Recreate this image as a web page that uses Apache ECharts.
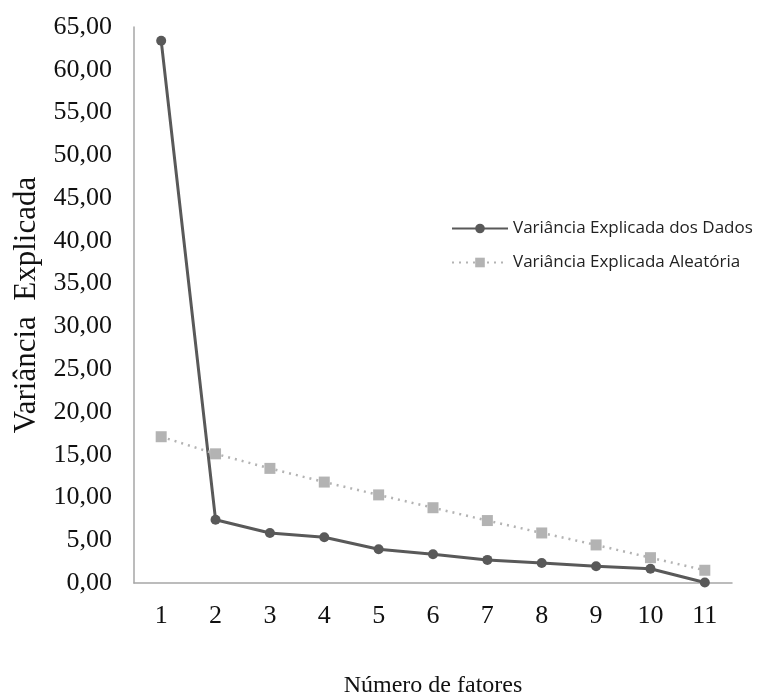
<!DOCTYPE html>
<html><head><meta charset="utf-8">
<script src="https://cdn.jsdelivr.net/npm/echarts@6/dist/echarts.min.js"></script>
<style>html,body{margin:0;padding:0;background:#fff}#c{width:769px;height:694px}</style>
</head><body><div id="c"></div>
<script>
const categories = ['1','2','3','4','5','6','7','8','9','10','11'];
const dadosValues = [63.4, 7.4, 5.85, 5.35, 3.95, 3.36, 2.7, 2.34, 1.95, 1.67, 0.05];
const aleatoriaValues = [17.1, 15.1, 13.4, 11.8, 10.3, 8.8, 7.3, 5.85, 4.45, 2.96, 1.49];
const seriesNames = ['Variância Explicada dos Dados', 'Variância Explicada Aleatória'];
const yTitle = 'Variância  Explicada';
const xTitle = 'Número de fatores';

const chart = echarts.init(document.getElementById('c'));
chart.setOption({
  animation: false,
  backgroundColor: '#fff',
  grid: {left: 134, top: 27, right: 37, bottom: 111, outerBoundsMode: 'none', containLabel: false},
  legend: {
    orient: 'vertical', left: 446, top: 215, itemGap: 17,
    itemWidth: 56, itemHeight: 12,
    textStyle: {fontFamily: 'Open Sans', fontSize: 17, color: '#222'},
    data: seriesNames
  },
  xAxis: {
    type: 'category', data: categories, boundaryGap: true,
    axisLine: {lineStyle: {color: '#a6a6a6', width: 1.5}},
    axisTick: {show: false},
    axisLabel: {fontFamily: 'Liberation Serif', fontSize: 26, color: '#111', margin: 20},
    name: xTitle, nameLocation: 'middle', nameGap: 91,
    nameTextStyle: {fontFamily: 'Liberation Serif', fontSize: 24, color: '#111'}
  },
  yAxis: {
    type: 'value', min: 0, max: 65, interval: 5,
    axisLine: {show: true, lineStyle: {color: '#a6a6a6', width: 1.5}},
    axisTick: {show: false},
    splitLine: {show: false},
    axisLabel: {fontFamily: 'Liberation Serif', fontSize: 26, color: '#111', margin: 22,
      formatter: v => v.toFixed(2).replace('.', ',')},
    name: yTitle, nameLocation: 'middle', nameGap: 92,
    nameTextStyle: {fontFamily: 'Liberation Serif', fontSize: 31, color: '#111'}
  },
  series: [
    {
      name: seriesNames[0], type: 'line', data: dadosValues,
      symbol: 'circle', symbolSize: 10,
      lineStyle: {color: '#595959', width: 3},
      itemStyle: {color: '#595959'}
    },
    {
      name: seriesNames[1], type: 'line', data: aleatoriaValues,
      symbol: 'rect', symbolSize: 11,
      lineStyle: {color: '#b3b3b3', width: 2.5, type: [2, 5]},
      itemStyle: {color: '#b3b3b3'}
    }
  ]
});
</script></body></html>
